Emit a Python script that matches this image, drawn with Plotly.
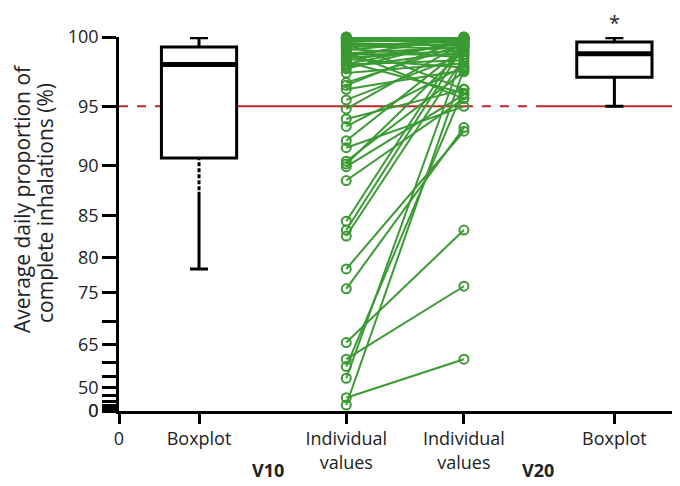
import plotly.graph_objects as go

# ---------------- data ----------------
categories = ["0", "Boxplot", "Individual<br>values", "Individual<br>values", "Boxplot"]
cat_pos = [0.0, 1.0, 2.84, 4.31, 6.19]

# paired individual values (V10 -> V20)
v10 = [100, 100, 99.95, 99.9, 99.85, 99.8, 99.7, 99.6, 99.55, 99.5, 99.4, 99.3, 99.2, 99.1,
       99.0, 98.9, 98.85, 98.7, 98.6, 98.5, 98.4, 98.3, 98.15, 98.1, 97.95, 97.8, 97.5,
       96.8, 96.6, 96.3, 95.5, 94.8, 94.0, 93.4, 92.2, 91.6, 90.4, 90.15, 89.9, 88.6,
       84.4, 83.4, 82.7, 78.5, 75.6, 65.4, 61.0, 58.7, 54.4, 43.4, 35.6]
v20 = [99.9, 99.95, 100, 99.8, 99.7, 99.6, 99.9, 99.4, 96.3, 99.5, 99.2, 99.8, 98.6, 99.9,
       95.6, 99.3, 98.8, 100, 99.1, 97.9, 99.6, 96.0, 99.7, 98.4, 99.0, 99.85, 98.2,
       99.5, 99.9, 97.7, 98.8, 99.6, 96.3, 98.0, 99.3, 95.0, 97.6, 99.1, 95.9, 95.6,
       99.8, 99.4, 98.6, 93.0, 93.3, 83.4, 76.0, 96.3, 99.0, 61.0, 97.8]

# boxplot summaries: [lower whisker, q1, median, q3, upper whisker]
box_v10 = [78.5, 90.7, 98.1, 99.33, 99.95]
box_v20 = [95.0, 97.2, 98.86, 99.67, 99.95]
dashed_whisker_end_v10 = 87.5

threshold = 95
y_ticks = list(range(0, 101, 5))
y_labeled = [0, 50, 65, 75, 80, 85, 90, 95, 100]

def T(v):
    return (v / 100.0) ** 4

FONT = "Open Sans"
GREEN = "#3b9a33"
RED = "#c0272d"
TXT = "#222"

fig = go.Figure()

# red threshold line segments (dashed / solid)
red_segments = [
    (0.0, 0.53, "dash"),
    (1.47, 4.31, "solid"),
    (4.31, 5.3, "dash"),
    (5.3, 6.91, "solid"),
]
for x0, x1, d in red_segments:
    fig.add_shape(type="line", x0=x0, x1=x1, y0=T(threshold), y1=T(threshold),
                  xref="x", yref="y", layer="below",
                  line=dict(color=RED, width=2, dash=d))

# boxes
box_w = 0.94
for pos, st in [(cat_pos[1], box_v10), (cat_pos[4], box_v20)]:
    fig.add_trace(go.Box(
        x=[pos], q1=[T(st[1])], median=[T(st[2])], q3=[T(st[3])],
        lowerfence=[T(st[0])], upperfence=[T(st[4])],
        width=box_w, whiskerwidth=0.24, boxpoints=False,
        fillcolor="white", line=dict(color="black", width=3),
        showlegend=False, hoverinfo="skip"))
    # thick median
    fig.add_trace(go.Scatter(
        x=[pos - box_w / 2, pos + box_w / 2], y=[T(st[2]), T(st[2])],
        mode="lines", line=dict(color="black", width=5),
        showlegend=False, hoverinfo="skip"))

# dashed part of V10 lower whisker (white gaps over black whisker)
fig.add_trace(go.Scatter(
    x=[cat_pos[1], cat_pos[1]], y=[T(box_v10[1]) - 0.006, T(dashed_whisker_end_v10)],
    mode="lines", line=dict(color="white", width=5, dash="2px,4px"),
    showlegend=False, hoverinfo="skip"))

# paired individual lines
xs, ys = [], []
for a, b in zip(v10, v20):
    xs += [cat_pos[2], cat_pos[3], None]
    ys += [T(a), T(b), None]
fig.add_trace(go.Scatter(
    x=xs, y=ys, mode="lines+markers",
    line=dict(color=GREEN, width=2),
    marker=dict(symbol="circle-open", size=9, color=GREEN, line=dict(width=2)),
    showlegend=False, hoverinfo="skip", cliponaxis=False))

# axes
fig.update_xaxes(
    range=[0, 6.91], tickmode="array", tickvals=cat_pos, ticktext=categories,
    showline=True, linecolor="black", linewidth=2.5,
    ticks="outside", ticklen=10, tickwidth=2.5, tickcolor="black",
    showgrid=False, zeroline=False,
    tickfont=dict(family=FONT, size=18, color=TXT))
fig.update_yaxes(
    range=[0, 1], tickmode="array", tickvals=[T(v) for v in y_ticks],
    ticktext=[str(v) if v in y_labeled else "" for v in y_ticks],
    showline=True, linecolor="black", linewidth=2.5,
    ticks="outside", ticklen=14, tickwidth=2.5, tickcolor="black",
    showgrid=False, zeroline=False,
    tickfont=dict(family=FONT, size=18, color=TXT))

annotations = [
    dict(text="Average daily proportion of", textangle=-90,
         xref="paper", yref="paper", x=(22 - 119) / 553, y=(411 - 199) / 374,
         xanchor="center", yanchor="middle", showarrow=False,
         font=dict(family=FONT, size=21, color=TXT)),
    dict(text="complete inhalations (%)", textangle=-90,
         xref="paper", yref="paper", x=(45 - 119) / 553, y=(411 - 203) / 374,
         xanchor="center", yanchor="middle", showarrow=False,
         font=dict(family=FONT, size=21, color=TXT)),
    dict(text="<b>V10</b>", xref="x", yref="paper", x=1.86, y=-0.158,
         xanchor="center", yanchor="middle", showarrow=False,
         font=dict(family=FONT, size=18, color=TXT)),
    dict(text="<b>V20</b>", xref="x", yref="paper", x=5.24, y=-0.158,
         xanchor="center", yanchor="middle", showarrow=False,
         font=dict(family=FONT, size=18, color=TXT)),
    dict(text="*", xref="x", yref="paper", x=cat_pos[4], y=1.04,
         xanchor="center", yanchor="middle", showarrow=False, borderpad=0,
         font=dict(family=FONT, size=20, color=TXT)),
]

# page body has an 8px default margin; offset margins so the plot lands where intended
fig.update_layout(
    width=680, height=486,
    margin=dict(l=111, r=16, t=29, b=83),
    paper_bgcolor="white", plot_bgcolor="white",
    annotations=annotations, showlegend=False)

fig.write_html("out.html")
